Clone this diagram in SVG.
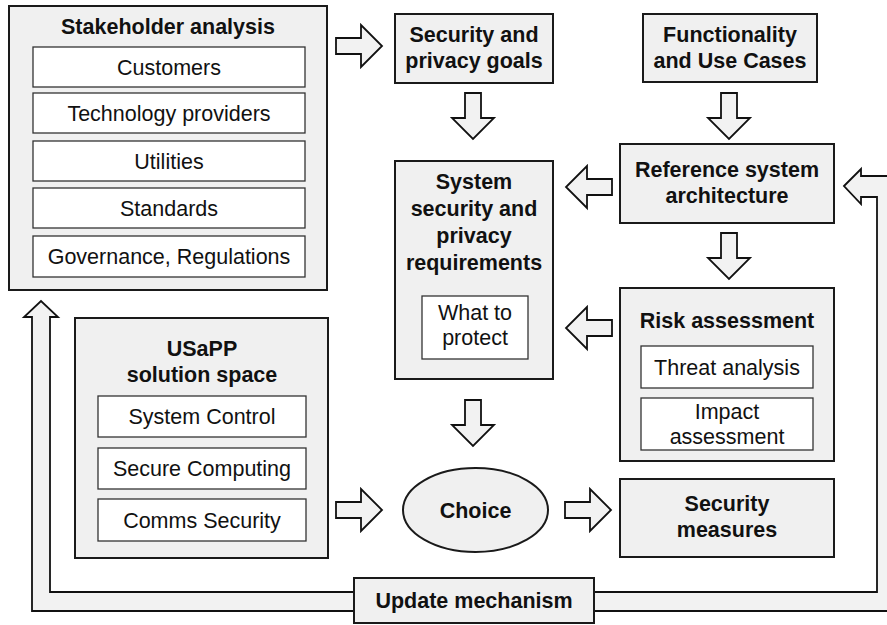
<svg xmlns="http://www.w3.org/2000/svg" xmlns:xlink="http://www.w3.org/1999/xlink" width="887" height="625" viewBox="0 0 887 625">
<style>
  .outer { fill: #f0f0f0; stroke: #1a1a1a; stroke-width: 2; }
  .inner { fill: #ffffff; stroke: #333333; stroke-width: 1.3; }
  .arr { fill: #f2f2f2; stroke: #111111; stroke-width: 1.8; stroke-linejoin: miter; }
  text { font-family: "Liberation Sans", Arial, sans-serif; font-size: 21.5px; fill: #111111; text-anchor: middle; }
  .b { font-weight: bold; }
</style>
<defs>
  <path id="blk" d="M0,-8 H25 V-21 L46,0 L25,21 V8 H0 Z"/>
</defs>
<rect width="887" height="625" fill="#ffffff"/>

<g id="connectors">
  <path class="arr" d="M844,186 L861,169 L861,176 L897,176 L897,611 L32,611 L32,317 L24,317 L41,301 L58,317 L50,317 L50,592 L877,592 L877,197 L861,197 L861,204 Z"/>
  <use href="#blk" class="arr" transform="translate(336,46)"/>
  <use href="#blk" class="arr" transform="translate(473,93) rotate(90)"/>
  <use href="#blk" class="arr" transform="translate(729,93) rotate(90)"/>
  <use href="#blk" class="arr" transform="translate(612,187) rotate(180)"/>
  <use href="#blk" class="arr" transform="translate(729,233) rotate(90)"/>
  <use href="#blk" class="arr" transform="translate(612,328) rotate(180)"/>
  <use href="#blk" class="arr" transform="translate(473,400) rotate(90)"/>
  <use href="#blk" class="arr" transform="translate(336,510)"/>
  <use href="#blk" class="arr" transform="translate(565,510)"/>
</g>

<g id="stakeholder">
  <rect class="outer" x="9" y="6" width="318" height="284"/>
  <text class="b" x="168" y="34">Stakeholder analysis</text>
  <rect class="inner" x="33" y="47" width="272" height="40"/>
  <text x="169" y="74.5">Customers</text>
  <rect class="inner" x="33" y="93" width="272" height="40"/>
  <text x="169" y="120.5">Technology providers</text>
  <rect class="inner" x="33" y="141" width="272" height="40"/>
  <text x="169" y="168.5">Utilities</text>
  <rect class="inner" x="33" y="188" width="272" height="40"/>
  <text x="169" y="215.5">Standards</text>
  <rect class="inner" x="33" y="236" width="272" height="41"/>
  <text x="169" y="264">Governance, Regulations</text>
</g>

<g id="goals">
  <rect class="outer" x="395" y="14" width="158" height="69"/>
  <text class="b" x="474" y="42">Security and</text>
  <text class="b" x="474" y="68">privacy goals</text>
</g>

<g id="functionality">
  <rect class="outer" x="643" y="14" width="174" height="68"/>
  <text class="b" x="730" y="42">Functionality</text>
  <text class="b" x="730" y="68">and Use Cases</text>
</g>

<g id="reference">
  <rect class="outer" x="620" y="144" width="214" height="79"/>
  <text class="b" x="727" y="177">Reference system</text>
  <text class="b" x="727" y="203">architecture</text>
</g>

<g id="requirements">
  <rect class="outer" x="395" y="161" width="158" height="218"/>
  <text class="b" x="474" y="189">System</text>
  <text class="b" x="474" y="216">security and</text>
  <text class="b" x="474" y="243">privacy</text>
  <text class="b" x="474" y="270">requirements</text>
  <rect class="inner" x="422" y="296" width="106" height="63"/>
  <text x="475" y="320">What to</text>
  <text x="475" y="345">protect</text>
</g>

<g id="risk">
  <rect class="outer" x="620" y="288" width="214" height="173"/>
  <text class="b" x="727" y="328">Risk assessment</text>
  <rect class="inner" x="641" y="346" width="172" height="42"/>
  <text x="727" y="374.5">Threat analysis</text>
  <rect class="inner" x="641" y="398" width="172" height="52"/>
  <text x="727" y="419">Impact</text>
  <text x="727" y="444">assessment</text>
</g>

<g id="solution">
  <rect class="outer" x="75" y="318" width="253" height="240"/>
  <text class="b" x="202" y="356">USaPP</text>
  <text class="b" x="202" y="382">solution space</text>
  <rect class="inner" x="98" y="396" width="208" height="41"/>
  <text x="202" y="424">System Control</text>
  <rect class="inner" x="98" y="448" width="208" height="41"/>
  <text x="202" y="476">Secure Computing</text>
  <rect class="inner" x="98" y="499" width="208" height="42"/>
  <text x="202" y="527.5">Comms Security</text>
</g>

<g id="choice">
  <ellipse class="outer" cx="475.5" cy="510" rx="72.5" ry="42"/>
  <text class="b" x="475.5" y="517.5">Choice</text>
</g>

<g id="measures">
  <rect class="outer" x="620" y="479" width="214" height="78"/>
  <text class="b" x="727" y="511">Security</text>
  <text class="b" x="727" y="537">measures</text>
</g>

<g id="update">
  <rect class="outer" x="354" y="578" width="240" height="45"/>
  <text class="b" x="474" y="608">Update mechanism</text>
</g>
</svg>
